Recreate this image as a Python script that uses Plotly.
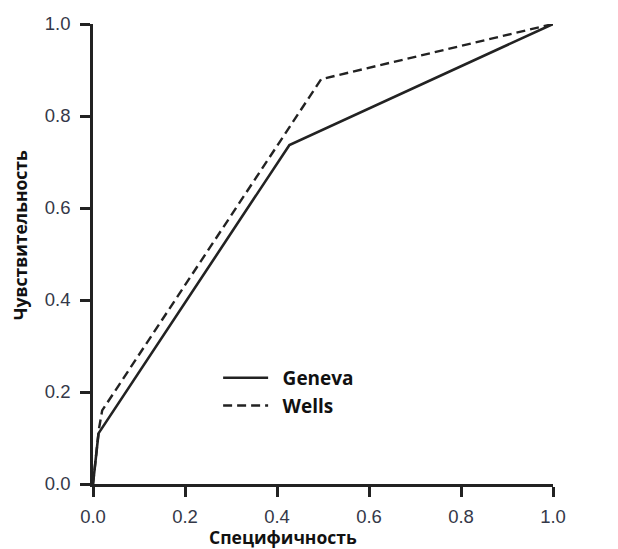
import plotly.graph_objects as go

geneva_x = [0.0, 0.012, 0.427, 1.0]
geneva_y = [0.0, 0.11, 0.737, 1.0]
wells_x = [0.0, 0.013, 0.02, 0.496, 1.0]
wells_y = [0.0, 0.12, 0.16, 0.88, 1.0]
tick_vals = [0.0, 0.2, 0.4, 0.6, 0.8, 1.0]
tick_text = ["0.0", "0.2", "0.4", "0.6", "0.8", "1.0"]
series_names = ["Geneva", "Wells"]
x_title = "Специфичность"
y_title = "Чувствительность"

line_col = "#222222"
fig = go.Figure()
fig.add_trace(go.Scatter(x=geneva_x, y=geneva_y, mode="lines",
                         name="\u2002<b>" + series_names[0] + "</b>",
                         legendgroup="g", line=dict(color=line_col, width=2.6),
                         cliponaxis=False))
fig.add_trace(go.Scatter(x=wells_x, y=wells_y, mode="lines",
                         name="\u2002<b>" + series_names[1] + "</b>",
                         legendgroup="w", line=dict(color=line_col, width=2.4, dash="9px,5px"),
                         cliponaxis=False))

axis_common = dict(range=[0, 1], tickvals=tick_vals, ticktext=tick_text,
                   showgrid=False, zeroline=False, showline=True, linecolor=line_col,
                   linewidth=2.5, ticks="outside", ticklen=10, tickwidth=2.5,
                   tickcolor=line_col, automargin=False,
                   tickfont=dict(family="Liberation Sans, Arial", size=18.5, color="#343848"))

title_font = dict(family="Open Sans", size=17.5, color="#111111")
fig.update_layout(
    width=618, height=549,
    margin=dict(l=93, r=65, t=24, b=65),
    paper_bgcolor="white", plot_bgcolor="white",
    xaxis=dict(**axis_common, ticklabelstandoff=4),
    yaxis=dict(**axis_common, ticklabelstandoff=6),
    legend=dict(x=0.272, y=0.272, xanchor="left", yanchor="top",
                bgcolor="rgba(0,0,0,0)", itemwidth=45, tracegroupgap=0,
                font=dict(family="Open Sans", size=19, color="#111111")),
    showlegend=True,
    annotations=[
        dict(text="<b>" + x_title + "</b>", xref="paper", yref="paper",
             x=0.413, y=-0.1152, xanchor="center", yanchor="middle",
             showarrow=False, font=title_font),
        dict(text="<b>" + y_title + "</b>", xref="paper", yref="paper",
             x=-0.1587, y=0.541, xanchor="center", yanchor="middle",
             textangle=-90, showarrow=False, font=title_font),
    ],
)

fig.write_html("out.html")
